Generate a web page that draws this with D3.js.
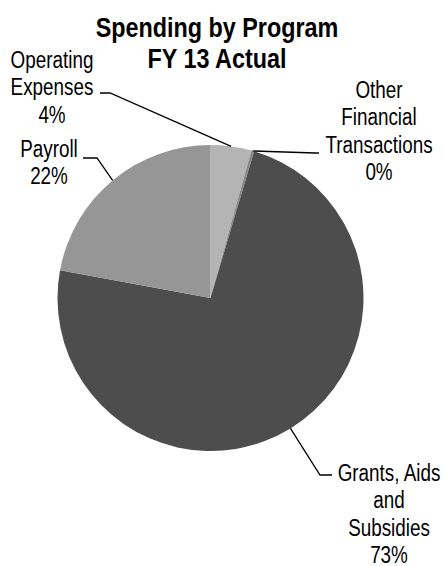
<!DOCTYPE html>
<html>
<head>
<meta charset="utf-8">
<title>Spending by Program</title>
<script src="https://d3js.org/d3.v7.min.js"></script>
<style>
  body { margin: 0; background: #fff; }
  text { font-family: "Liberation Sans", Arial, sans-serif; fill: #000; }
</style>
</head>
<body>
<div id="chart"></div>
<script>
    // data
    var categories = ["Operating Expenses", "Other Financial Transactions", "Grants, Aids and Subsidies", "Payroll"];
    var shares = [4.3, 0.3, 73.3, 22.1];
    var shownPct = ["4%", "0%", "73%", "22%"];
    var labelLines = [
        ["Operating", "Expenses"],
        ["Other", "Financial", "Transactions"],
        ["Grants, Aids", "and", "Subsidies"],
        ["Payroll"]
    ];
    var titleLines = ["Spending by Program", "FY 13 Actual"];

    var width = 445, height = 566;
    var cx = 210.5, cy = 298, radius = 153;
    var lineH = 27.3;
    var narrow = 0.82;   // squeeze Liberation Sans to look like Arial Narrow

    var colors = ["#b4b4b4", "#8a8a8a", "#4d4d4d", "#969696"];

    // label placement: text centre, first baseline, elbow point, end of leader
    var labelPos = [
        { x: 52, y: 68, elbow: [110, 93], end: [100, 93] },
        { x: 379, y: 98, elbow: [315, 153], end: [319, 153] },
        { x: 389, y: 481, elbow: [320, 475], end: [332, 475] },
        { x: 49, y: 157, elbow: [97, 158], end: [83, 158] }
    ];

    var svg = d3.select("#chart").append("svg")
        .attr("width", width)
        .attr("height", height);

    var data = categories.map(function(c, i) { return { name: c, value: shares[i] }; });

    var pie = d3.pie().sort(null).value(function(d) { return d.value; });
    var arc = d3.arc().innerRadius(0).outerRadius(radius);
    var arcs = pie(data);

    var g = svg.append("g").attr("transform", "translate(" + cx + "," + cy + ")");

    g.selectAll("path.slice")
        .data(arcs)
        .enter().append("path")
        .attr("class", "slice")
        .attr("d", arc)
        .attr("fill", function(d, i) { return colors[i]; });

    function narrowText(x, y, lines, size, bold, step) {
        var t = svg.append("text")
            .attr("transform", "translate(" + x + "," + y + ") scale(" + narrow + ",1)")
            .attr("text-anchor", "middle")
            .style("font-size", size + "px")
            .style("font-weight", bold ? "bold" : "normal");
        lines.forEach(function(s, k) {
            t.append("tspan")
                .attr("x", 0)
                .attr("y", k * step)
                .text(s);
        });
    }

    // title
    narrowText(217, 37, titleLines, 28.5, true, 31);

    // leaders + labels
    arcs.forEach(function(a, i) {
        var mid = (a.startAngle + a.endAngle) / 2;
        var sx = cx + radius * Math.sin(mid);
        var sy = cy - radius * Math.cos(mid);
        var p = labelPos[i];
        svg.append("polyline")
            .attr("points", [[sx, sy], p.elbow, p.end].map(function(q) { return q.join(","); }).join(" "))
            .attr("fill", "none")
            .attr("stroke", "#000")
            .attr("stroke-width", 1.3);

        narrowText(p.x, p.y, labelLines[i].concat([shownPct[i]]), 23, false, lineH);
    });
</script>
</body>
</html>
